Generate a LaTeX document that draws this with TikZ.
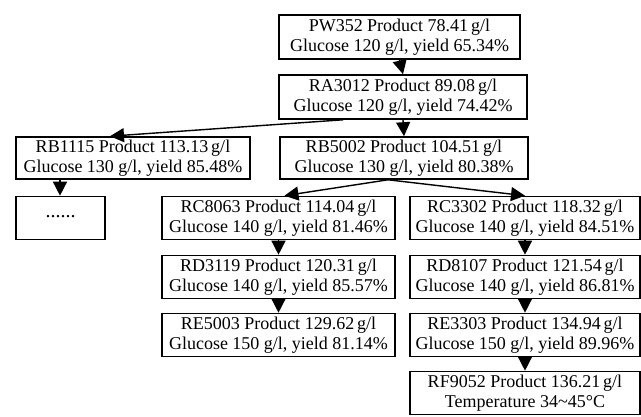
\documentclass[tikz,border=0pt]{standalone}
\usepackage{fontspec}
\setmainfont{Liberation Serif}
\usetikzlibrary{arrows.meta}
\begin{document}
\begin{tikzpicture}[x=1pt,y=-1pt,
  box/.style={draw, line width=1.6pt, inner sep=0pt, align=center,
    minimum height=43pt, font=\fontsize{18}{19.5}\selectfont},
  arr/.style={line width=1.4pt, -{Triangle[length=14pt,width=14pt]}}]
\useasboundingbox (0,0) rectangle (641,417);
\node[box, minimum width=241pt, minimum height=44pt] (pw) at (399.5,37) {PW352 Product 78.41\,g/l\\Glucose 120 g/l, yield 65.34\%};
\node[box, minimum width=248pt, minimum height=44pt] (ra) at (403,97) {RA3012 Product 89.08\,g/l\\Glucose 120 g/l, yield 74.42\%};
\node[box, minimum width=234pt, minimum height=42pt] (rb1) at (133,158) {RB1115 Product 113.13\,g/l\\Glucose 130 g/l, yield 85.48\%};
\node[box, minimum width=248pt, minimum height=42pt] (rb5) at (404,158) {RB5002 Product 104.51\,g/l\\Glucose 130 g/l, yield 80.38\%};
\node[box, minimum width=89pt] (dots) at (60.5,218) {\raisebox{3pt}{\fontsize{20}{20}\selectfont ......}};
\node[box, minimum width=233pt] (rc8) at (278.5,218) {RC8063 Product 114.04\,g/l\\Glucose 140 g/l, yield 81.46\%};
\node[box, minimum width=230pt] (rc3) at (525,218) {RC3302 Product 118.32\,g/l\\Glucose 140 g/l, yield 84.51\%};
\node[box, minimum width=233pt] (rd3) at (278.5,277) {RD3119 Product 120.31\,g/l\\Glucose 140 g/l, yield 85.57\%};
\node[box, minimum width=230pt] (rd8) at (525,277) {RD8107 Product 121.54\,g/l\\Glucose 140 g/l, yield 86.81\%};
\node[box, minimum width=233pt] (re5) at (278.5,335) {RE5003 Product 129.62\,g/l\\Glucose 150 g/l, yield 81.14\%};
\node[box, minimum width=230pt] (re3) at (525,335) {RE3303 Product 134.94\,g/l\\Glucose 150 g/l, yield 89.96\%};
\node[box, minimum width=230pt] (rf) at (525,393) {RF9052 Product 136.21\,g/l\\Temperature 34\textasciitilde 45°C};
\coordinate (raL) at ([xshift=-60pt]ra.south);
\coordinate (rb1T) at ([xshift=-23pt]rb1.north);
\coordinate (rb5B) at ([xshift=-16pt]rb5.south);
\draw[arr] (pw.south) -- (ra.north);
\draw[arr] (ra.south) -- (rb5.north);
\draw[arr] (raL) -- (rb1T);
\draw[arr] ([xshift=-73pt]rb1.south) -- ([xshift=-73pt]rb1.south |- dots.north);
\draw[arr] (rb5B) -- ([xshift=6pt]rc8.north);
\draw[arr] (rb5B) -- (rc3.north);
\draw[arr] (rc8.south) -- (rd3.north);
\draw[arr] (rd3.south) -- (re5.north);
\draw[arr] (rc3.south) -- (rd8.north);
\draw[arr] (rd8.south) -- (re3.north);
\draw[arr] (re3.south) -- (rf.north);
\end{tikzpicture}
\end{document}
